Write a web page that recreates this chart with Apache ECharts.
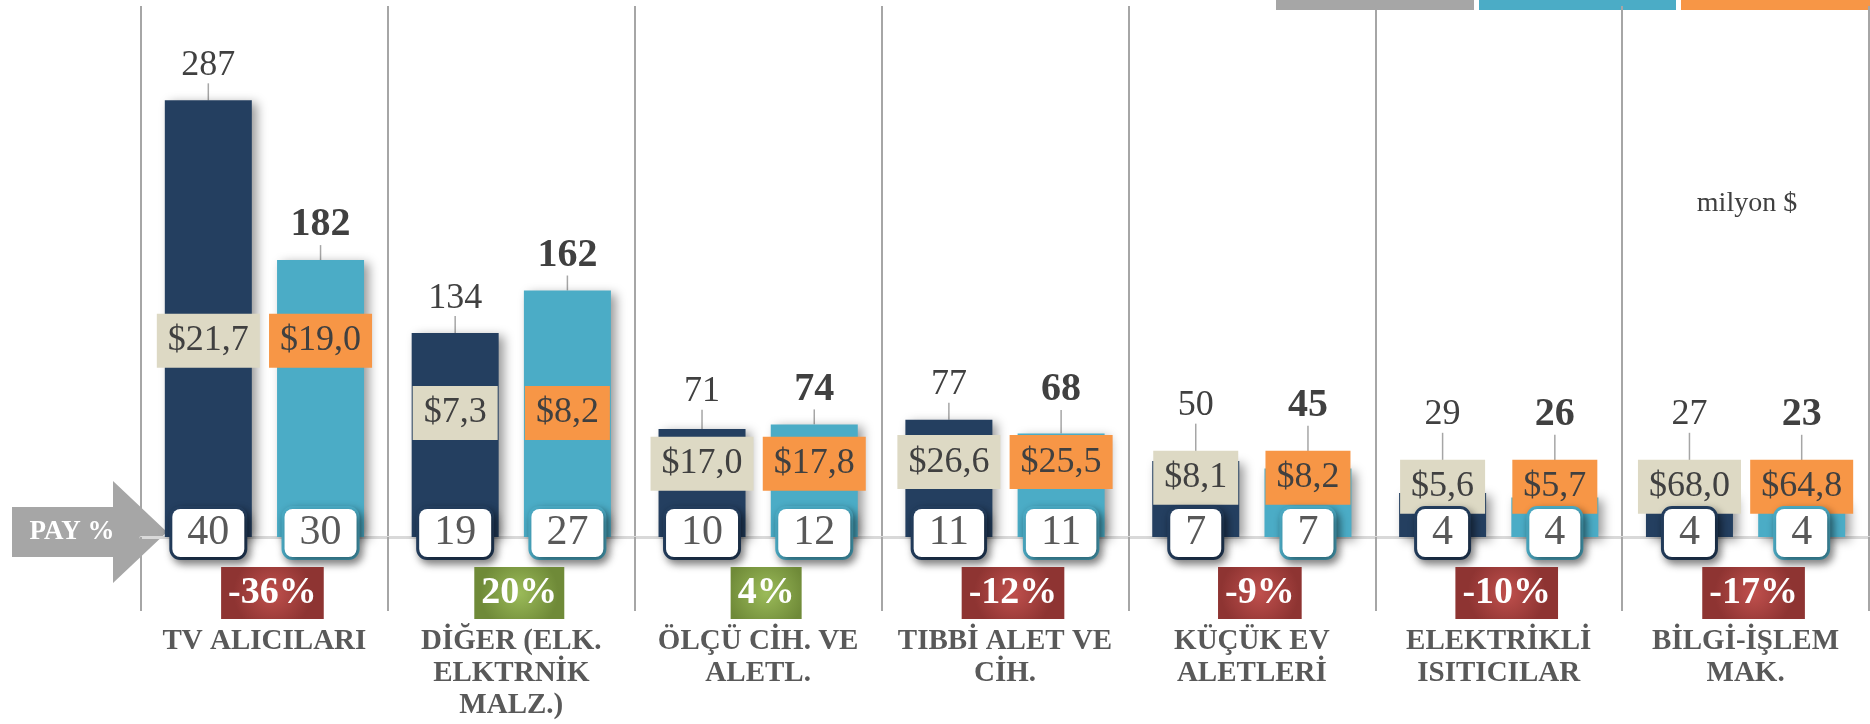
<!DOCTYPE html>
<html>
<head>
<meta charset="utf-8">
<script src="https://cdn.jsdelivr.net/npm/echarts@6/dist/echarts.min.js"></script>
<style>
  html, body { margin: 0; padding: 0; background: #ffffff; }
  #chart { width: 1870px; height: 724px; }
</style>
</head>
<body>
<div id="chart"></div>
<script>
// kategoriler ve degerler
const categories = ['TV ALICILARI', 'DİĞER (ELK.\nELKTRNİK\nMALZ.)', 'ÖLÇÜ CİH. VE\nALETL.', 'TIBBİ ALET VE\nCİH.', 'KÜÇÜK EV\nALETLERİ', 'ELEKTRİKLİ\nISITICILAR', 'BİLGİ-İŞLEM\nMAK.'];
const valuesPrev = [287, 134, 71, 77, 50, 29, 27];
const valuesCurr = [182, 162, 74, 68, 45, 26, 23];
const pricePrev = [21.7, 7.3, 17.0, 26.6, 8.1, 5.6, 68.0];
const priceCurr = [19.0, 8.2, 17.8, 25.5, 8.2, 5.7, 64.8];
const sharePrev = [40, 19, 10, 11, 7, 4, 4];
const shareCurr = [30, 27, 12, 11, 7, 4, 4];
const change = [-36, 20, 4, -12, -9, -10, -17];

const SERIF = "'Liberation Serif', 'Times New Roman', serif";
const NAVY = '#243F60';
const TEAL = '#4BACC6';

// $ kutularinin yuksekligi: kategorideki en uzun cubuga gore
const priceLevel = categories.map((c, i) => Math.max(33, 0.38 * Math.max(valuesPrev[i], valuesCurr[i]) + 20));

function fmtPrice(v) {
  return '$' + v.toFixed(1).replace('.', ',');
}

// deger etiketleri cubugun ustunde ama $ kutusunun da ustunde kalsin
function valueLabelLayout(params) {
  const i = params.dataIndex;
  const r = params.rect;
  const top = Math.min(r.y, r.y + r.height);
  const base = Math.max(r.y, r.y + r.height);
  const v = params.seriesIndex === 0 ? valuesPrev[i] : valuesCurr[i];
  const pxPerUnit = (base - top) / v;
  const boxTop = base - priceLevel[i] * pxPerUnit - 27;
  return {
    x: r.x + r.width / 2,
    y: Math.min(top - 35, boxTop - 45),
    align: 'center',
    verticalAlign: 'middle'
  };
}

const chart = echarts.init(document.getElementById('chart'), null, { renderer: 'canvas' });

const axisBase = { type: 'category', data: categories, gridIndex: 0 };
const barShadow = { shadowBlur: 10, shadowColor: 'rgba(0,0,0,0.4)', shadowOffsetX: 5, shadowOffsetY: 3 };

const redBadge = new echarts.graphic.RadialGradient(0.5, 0.5, 0.75, [
  { offset: 0, color: '#C0504D' }, { offset: 1, color: '#8E3432' }
]);
const greenBadge = new echarts.graphic.RadialGradient(0.5, 0.5, 0.75, [
  { offset: 0, color: '#9BBB59' }, { offset: 1, color: '#6F8A38' }
]);

function payLabel(border) {
  return {
    show: true,
    position: ['50%', '100%'],
    align: 'center',
    verticalAlign: 'middle',
    offset: [0, -4],
    backgroundColor: '#ffffff',
    borderColor: border,
    borderWidth: 3,
    borderRadius: 8,
    padding: [2, 15],
    fontFamily: SERIF,
    fontSize: 42,
    lineHeight: 44,
    color: '#595959',
    shadowBlur: 8,
    shadowColor: 'rgba(0,0,0,0.45)',
    shadowOffsetX: 3,
    shadowOffsetY: 4
  };
}

function priceLabel(bg, prices) {
  return {
    show: true,
    position: ['50%', 0],
    align: 'center',
    verticalAlign: 'middle',
    backgroundColor: bg,
    padding: [6, 11],
    fontFamily: SERIF,
    fontSize: 36,
    lineHeight: 42,
    color: '#404040',
    formatter: p => fmtPrice(prices[p.dataIndex])
  };
}

const option = {
  animation: false,
  backgroundColor: '#ffffff',
  grid: { left: 141, right: 1, top: 6, bottom: 187, containLabel: false },
  xAxis: [
    Object.assign({}, axisBase, {
      axisLine: { lineStyle: { color: '#D9D9D9', width: 3 } },
      axisTick: { show: true, length: 74, lineStyle: { color: '#A6A6A6', width: 2 } },
      splitLine: { show: true, lineStyle: { color: '#A6A6A6', width: 2 } },
      axisLabel: {
        interval: 0,
        margin: 89,
        fontFamily: SERIF,
        fontWeight: 'bold',
        fontSize: 29,
        lineHeight: 32,
        color: '#595959'
      }
    }),
    Object.assign({}, axisBase, { show: false }),
    Object.assign({}, axisBase, { show: false }),
    Object.assign({}, axisBase, { show: false })
  ],
  yAxis: { type: 'value', min: 0, max: 349, show: false, splitLine: { show: false } },
  series: [
    {
      type: 'bar', name: 'önceki', xAxisIndex: 0, data: valuesPrev,
      barWidth: 87, barGap: '29%', z: 2,
      itemStyle: Object.assign({ color: NAVY }, barShadow),
      label: { show: true, position: 'top', fontFamily: SERIF, fontSize: 36, color: '#404040' },
      labelLayout: valueLabelLayout,
      labelLine: { show: true, lineStyle: { color: '#A6A6A6', width: 1.5 } }
    },
    {
      type: 'bar', name: 'son', xAxisIndex: 0, data: valuesCurr,
      barWidth: 87, barGap: '29%', z: 2,
      itemStyle: Object.assign({ color: TEAL }, barShadow),
      label: { show: true, position: 'top', fontFamily: SERIF, fontSize: 40, fontWeight: 'bold', color: '#404040' },
      labelLayout: valueLabelLayout,
      labelLine: { show: true, lineStyle: { color: '#A6A6A6', width: 1.5 } }
    },
    {
      type: 'bar', xAxisIndex: 1, data: priceLevel, barWidth: 87, barGap: '29%', z: 3, silent: true,
      itemStyle: { color: 'rgba(0,0,0,0)' },
      label: priceLabel('#DDD9C4', pricePrev)
    },
    {
      type: 'bar', xAxisIndex: 1, data: priceLevel, barWidth: 87, barGap: '29%', z: 3, silent: true,
      itemStyle: { color: 'rgba(0,0,0,0)' },
      label: priceLabel('#F79646', priceCurr)
    },
    {
      type: 'bar', xAxisIndex: 2, data: sharePrev, barWidth: 87, barGap: '29%', z: 4, silent: true,
      itemStyle: { color: 'rgba(0,0,0,0)' },
      label: payLabel(NAVY)
    },
    {
      type: 'bar', xAxisIndex: 2, data: shareCurr, barWidth: 87, barGap: '29%', z: 4, silent: true,
      itemStyle: { color: 'rgba(0,0,0,0)' },
      label: payLabel(TEAL)
    },
    {
      type: 'bar', xAxisIndex: 3, barWidth: 87, z: 4, silent: true,
      data: change.map(g => ({ value: 0, label: { backgroundColor: g < 0 ? redBadge : greenBadge } })),
      itemStyle: { color: 'rgba(0,0,0,0)' },
      label: {
        show: true,
        position: ['50%', '100%'],
        align: 'center',
        verticalAlign: 'middle',
        offset: [8, 56],
        padding: [5, 7],
        fontFamily: SERIF,
        fontWeight: 'bold',
        fontSize: 38,
        lineHeight: 42,
        color: '#ffffff',
        formatter: p => change[p.dataIndex] + '%'
      }
    }
  ],
  graphic: [
    {
      type: 'polygon', z: 0,
      shape: { points: [[12, 507], [113, 507], [113, 481], [167, 532], [113, 583], [113, 557], [12, 557]] },
      style: { fill: '#A6A6A6' }
    },
    {
      type: 'text', z: 1,
      style: { text: 'PAY %', x: 72, y: 532, align: 'center', verticalAlign: 'middle', fill: '#ffffff', font: 'bold 27px ' + SERIF }
    },
    {
      type: 'text', z: 1,
      style: { text: 'milyon $', x: 1747, y: 204, align: 'center', verticalAlign: 'middle', fill: '#404040', font: '28px ' + SERIF }
    },
    { type: 'rect', shape: { x: 1276, y: 0, width: 198, height: 10 }, style: { fill: '#A6A6A6' } },
    { type: 'rect', shape: { x: 1479, y: 0, width: 197, height: 10 }, style: { fill: TEAL } },
    { type: 'rect', shape: { x: 1681, y: 0, width: 189, height: 10 }, style: { fill: '#F79646' } }
  ]
};

chart.setOption(option);
</script>
</body>
</html>
